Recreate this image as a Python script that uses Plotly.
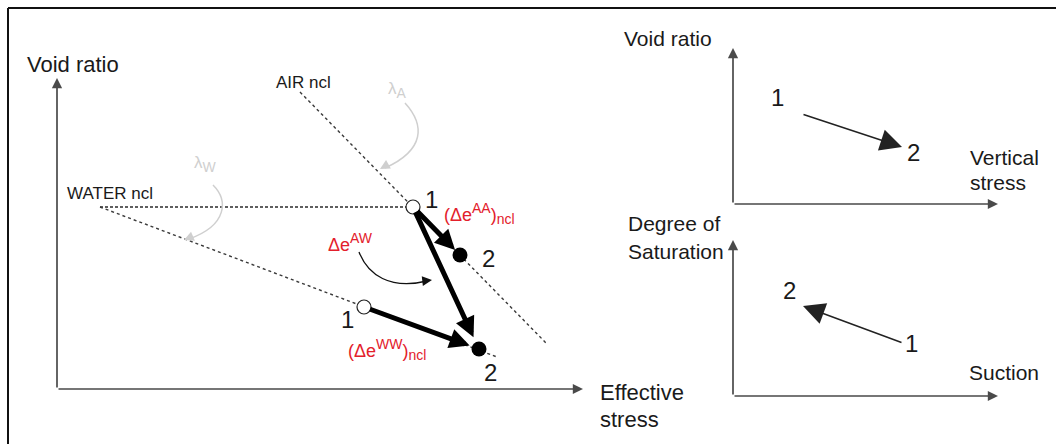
import plotly.graph_objects as go

W, H = 1056, 444
UNIT = 100.0  # pixels per schematic unit on every panel

# ---------------- left panel: void ratio vs effective stress ----------------
air_ncl_x = [2.43, 4.90]
air_ncl_y = [2.97, 0.45]
water_flat_x = [0.43, 3.56]
water_flat_y = [1.82, 1.82]
water_ncl_x = [0.43, 4.40]
water_ncl_y = [1.82, 0.32]

air_state_x = [3.56, 4.03]      # states 1 and 2 on the AIR ncl
air_state_y = [1.82, 1.34]
water_state_x = [3.07, 4.22]    # states 1 and 2 on the WATER ncl
water_state_y = [0.82, 0.40]
state_labels = ["1", "2"]

# ---------------- right panels ----------------
vr_state_x = [0.69, 1.69]       # void ratio vs vertical stress
vr_state_y = [0.90, 0.57]
sr_state_x = [1.70, 0.70]       # degree of saturation vs suction
sr_state_y = [0.53, 0.90]

FONT = "Liberation Sans, Arial, sans-serif"
INK = "#1a1a1a"
RED = "#e3202b"
GREY = "#cfcfcf"


def panel(x0, y0, x1, y1):
    """Pixel box (origin x0,y0 ; arrow tips x1,y1) -> domains and ranges."""
    return dict(
        xd=[x0 / W, x1 / W], yd=[1 - y0 / H, 1 - y1 / H],
        xr=[0, (x1 - x0) / UNIT], yr=[0, (y0 - y1) / UNIT])


def P(px, py):
    return px / W, 1 - py / H


panels = {
    "": panel(57, 389, 583, 78),
    "2": panel(733, 204, 998, 48),
    "3": panel(733, 396, 998, 240),
}

fig = go.Figure()
layout_axes = {}
for k, p in panels.items():
    common = dict(visible=False, showgrid=False, zeroline=False, fixedrange=True)
    layout_axes["xaxis" + k] = dict(domain=p["xd"], range=p["xr"], anchor="y" + k, **common)
    layout_axes["yaxis" + k] = dict(domain=p["yd"], range=p["yr"], anchor="x" + k, **common)

# normal consolidation lines
fig.add_trace(go.Scatter(x=air_ncl_x, y=air_ncl_y, mode="lines",
                         line=dict(color="#3a3a3a", width=1.4, dash="dot")))
fig.add_trace(go.Scatter(x=water_flat_x, y=water_flat_y, mode="lines",
                         line=dict(color="#2a2a2a", width=1.4, dash="3px,2px")))
fig.add_trace(go.Scatter(x=water_ncl_x, y=water_ncl_y, mode="lines",
                         line=dict(color="#3a3a3a", width=1.4, dash="dot")))

# states: 1 open, 2 filled
for xs, ys in [(air_state_x, air_state_y), (water_state_x, water_state_y)]:
    fig.add_trace(go.Scatter(x=[xs[0]], y=[ys[0]], mode="markers",
                             marker=dict(size=14, color="white", line=dict(color="#222", width=1.2))))
    fig.add_trace(go.Scatter(x=[xs[1]], y=[ys[1]], mode="markers",
                             marker=dict(size=15, color="black", line=dict(width=0))))


def arrow(x0, y0, x1, y1, k="", width=5, size=0.8, color="black", standoff=0, startstandoff=0):
    fig.add_annotation(x=x1, y=y1, ax=x0, ay=y0, xref="x" + k, yref="y" + k,
                       axref="x" + k, ayref="y" + k, text="", showarrow=True,
                       arrowhead=2, arrowsize=size, arrowwidth=width, arrowcolor=color,
                       standoff=standoff, startstandoff=startstandoff)


# axes with arrow tips
for k, p in panels.items():
    arrow(0, 0, p["xr"][1], 0, k, width=1.7, size=1.2, color="#4a4a4a")
    arrow(0, 0, 0, p["yr"][1], k, width=1.7, size=1.2, color="#4a4a4a")

# thick increments
arrow(air_state_x[0], air_state_y[0], air_state_x[1], air_state_y[1],
      standoff=7, startstandoff=4)
arrow(air_state_x[0], air_state_y[0], water_state_x[1], water_state_y[1],
      standoff=13, startstandoff=4)
arrow(water_state_x[0], water_state_y[0], water_state_x[1], water_state_y[1],
      standoff=10, startstandoff=5)

# thin arrows on the right panels
arrow(vr_state_x[0], vr_state_y[0], vr_state_x[1], vr_state_y[1], "2",
      width=1.5, size=2.9, color="#222")
arrow(sr_state_x[0], sr_state_y[0], sr_state_x[1], sr_state_y[1], "3",
      width=1.5, size=2.9, color="#222")


def num(text, x, y, dx, dy, k="", size=24):
    fig.add_annotation(x=x, y=y, xref="x" + k, yref="y" + k, text=text, showarrow=False,
                       xshift=dx, yshift=-dy, font=dict(family=FONT, size=size, color=INK))


num(state_labels[0], air_state_x[0], air_state_y[0], 18, -8)
num(state_labels[1], air_state_x[1], air_state_y[1], 28, 3)
num(state_labels[0], water_state_x[0], water_state_y[0], -17, 12)
num(state_labels[1], water_state_x[1], water_state_y[1], 11, 23)
num(state_labels[0], vr_state_x[0], vr_state_y[0], -25, -17, "2")
num(state_labels[1], vr_state_x[1], vr_state_y[1], 11, 5, "2")
num(state_labels[0], sr_state_x[0], sr_state_y[0], 8, 0, "3")
num(state_labels[1], sr_state_x[1], sr_state_y[1], -14, -16, "3")

# curved pointers
shapes = [
    # outer frame (top and left edges)
    dict(type="line", xref="paper", yref="paper", x0=8 / W, x1=1.0, y0=1 - 8 / H, y1=1 - 8 / H,
         line=dict(color="#111", width=2)),
    dict(type="line", xref="paper", yref="paper", x0=8 / W, x1=8 / W, y0=0, y1=1 - 8 / H,
         line=dict(color="#111", width=2)),
    dict(type="path", xref="x", yref="y", layer="above",
         path="M 3.02,1.37 C 3.11,1.14 3.33,0.99 3.70,1.08",
         line=dict(color="#111", width=1.3)),
    dict(type="path", xref="x", yref="y", layer="above",
         path="M 3.48,2.86 C 3.68,2.64 3.68,2.39 3.28,2.21",
         line=dict(color=GREY, width=1.5)),
    dict(type="path", xref="x", yref="y", layer="above",
         path="M 1.56,2.04 C 1.71,1.89 1.71,1.64 1.32,1.50",
         line=dict(color=GREY, width=1.5)),
]
# heads of the curved pointers
fig.add_annotation(x=3.75, y=1.09, xref="x", yref="y", ax=-9, ay=1, text="", showarrow=True,
                   arrowhead=2, arrowsize=1.5, arrowwidth=1.3, arrowcolor="#111")
fig.add_annotation(x=3.23, y=2.20, xref="x", yref="y", ax=7, ay=-4, text="", showarrow=True,
                   arrowhead=2, arrowsize=1.3, arrowwidth=1.5, arrowcolor=GREY)
fig.add_annotation(x=1.27, y=1.49, xref="x", yref="y", ax=7, ay=-3, text="", showarrow=True,
                   arrowhead=2, arrowsize=1.3, arrowwidth=1.5, arrowcolor=GREY)


def label(text, px, py, size=21, color=INK, anchor="left"):
    x, y = P(px, py)
    fig.add_annotation(x=x, y=y, xref="paper", yref="paper", text=text, showarrow=False,
                       xanchor=anchor, yanchor="middle",
                       font=dict(family=FONT, size=size, color=color))


def small(t):
    return "<span style='font-size:14px'>" + t + "</span>"


label("Void ratio", 25, 65, 22)
label("Effective", 598, 392, 22)
label("stress", 598, 419, 22)
label("AIR ncl", 274, 82, 17)
label("WATER ncl", 65, 193, 17)
label("λ<sub>" + small("A") + "</sub>", 386, 90, 17, GREY)
label("λ<sub>" + small("W") + "</sub>", 192, 164, 17, GREY)
label("(Δe<sup>" + small("AA") + "</sup>)<sub>" + small("ncl") + "</sub>", 442, 214, 18, RED)
label("Δe<sup>" + small("AW") + "</sup>", 326, 243, 18, RED)
label("(Δe<sup>" + small("WW") + "</sup>)<sub>" + small("ncl") + "</sub>", 346, 349, 18, RED)

label("Void ratio", 622, 38)
label("Vertical", 968, 157)
label("stress", 968, 182)
label("Degree of", 626, 224)
label("Saturation", 626, 251)
label("Suction", 967, 372)

fig.update_layout(
    width=W, height=H, margin=dict(l=0, r=0, t=0, b=0),
    paper_bgcolor="white", plot_bgcolor="rgba(0,0,0,0)",
    showlegend=False, shapes=shapes, **layout_axes)

fig.write_html("out.html", config={"displayModeBar": False})
